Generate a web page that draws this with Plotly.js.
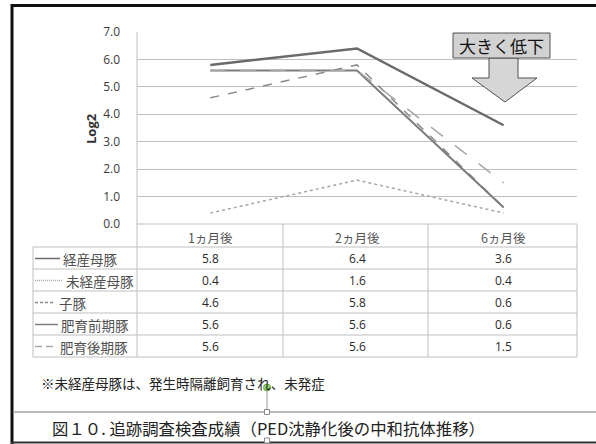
<!DOCTYPE html>
<html><head><meta charset="utf-8">
<script src="https://cdn.plot.ly/plotly-3.0.1.min.js"></script>
<style>html,body{margin:0;padding:0;background:#fff;}#chart{width:596px;height:444px;}</style>
</head><body><div id="chart"></div>
<script>
const categories = ['1ヵ月後', '2ヵ月後', '6ヵ月後'];
const seriesNames = ['経産母豚', '未経産母豚', '子豚', '肥育前期豚', '肥育後期豚'];
const keisanBoton = [5.8, 6.4, 3.6];
const mikeisanBoton = [0.4, 1.6, 0.4];
const kobuta = [4.6, 5.8, 0.6];
const hiikuZenki = [5.6, 5.6, 0.6];
const hiikuKouki = [5.6, 5.6, 1.5];
const yTicks = [0, 1, 2, 3, 4, 5, 6, 7];
const yTickText = ['0.0', '1.0', '2.0', '3.0', '4.0', '5.0', '6.0', '7.0'];
const yTitle = 'Log2';
const calloutText = '大きく低下';
const noteText = '※未経産母豚は、発生時隔離飼育され、未発症';
const captionText = '図１０. 追跡調査検査成績（PED沈静化後の中和抗体推移）';

const seriesValues = [keisanBoton, mikeisanBoton, kobuta, hiikuZenki, hiikuKouki];
const styles = [
  {color: '#6a6a6a', width: 2.5, dash: 'solid'},
  {color: '#a6a6a6', width: 1.5, dash: 'dot'},
  {color: '#8a8a8a', width: 1.5, dash: 'dash'},
  {color: '#7c7c7c', width: 2, dash: 'solid'},
  {color: '#a8a8a8', width: 1.5, dash: 'longdash'}
];
const keyDash = ['solid', '1px,1px', '3px,2px', 'solid', '7px,4px'];
const keyEnd = [60, 62, 55, 58, 57];
const labelX = [61, 64, 57, 59, 58];

const W = 596, H = 444, ML = 137, MR = 19, MT = 32, MB = 220;
const PW = W - ML - MR, PH = H - MT - MB;
const px = x => (x - ML) / PW;
const py = y => (H - MB - y) / PH;

const JP = '"Noto Sans CJK JP", "Noto Sans", sans-serif';
const txt = '#3a3a3a';

const traces = seriesValues.map((vals, i) => ({
  type: 'scatter', mode: 'lines', name: seriesNames[i],
  x: categories, y: vals,
  line: {color: styles[i].color, width: styles[i].width, dash: styles[i].dash},
  hoverinfo: 'skip'
}));

const shapes = [];
const annotations = [];
const gray = '#bfbfbf';
function hline(x0, x1, y, color, width) {
  shapes.push({type: 'line', xref: 'paper', yref: 'paper', x0: px(x0), x1: px(x1), y0: py(y), y1: py(y),
    line: {color: color || gray, width: width || 1}});
}
function vline(x, y0, y1, color, width) {
  shapes.push({type: 'line', xref: 'paper', yref: 'paper', x0: px(x), x1: px(x), y0: py(y0), y1: py(y1),
    line: {color: color || gray, width: width || 1}});
}
function note(o) {
  annotations.push(Object.assign({showarrow: false, xanchor: 'center', yanchor: 'middle'}, o));
}

// Outer frame
vline(12, 4, 444, '#111111', 3);
hline(11, 596, 5.5, '#111111', 3);
hline(11, 596, 442.5, '#333333', 2);

// Data table
const rowB = [224, 247, 269, 291, 313, 335, 357];
hline(137, 577, rowB[0]);
for (let r = 1; r < rowB.length; r++) hline(33, 577, rowB[r]);
vline(33, rowB[1], rowB[6]);
vline(137, MT, rowB[6]);
vline(283, rowB[0], rowB[6]);
vline(428, rowB[0], rowB[6]);
vline(577, rowB[0], rowB[6]);

categories.forEach(c => {
  note({xref: 'x', yref: 'paper', x: c, y: py((rowB[0] + rowB[1]) / 2 + 1.5), text: c,
    font: {family: JP, size: 12.5, color: '#555'}});
});
seriesNames.forEach((name, i) => {
  const yc = (rowB[i + 1] + rowB[i + 2]) / 2 + 0.5;
  shapes.push({type: 'line', xref: 'paper', yref: 'paper', x0: px(35), x1: px(keyEnd[i]), y0: py(yc), y1: py(yc),
    line: {color: styles[i].color, width: Math.min(styles[i].width, 1.5), dash: keyDash[i]}});
  note({xref: 'paper', yref: 'paper', x: px(labelX[i]), y: py(yc), xanchor: 'left', text: name,
    font: {family: JP, size: 13.5, color: '#505050'}});
  categories.forEach((c, j) => {
    note({xref: 'x', yref: 'paper', x: c, y: py(yc), text: seriesValues[i][j].toFixed(1),
      font: {family: '"Open Sans", "Noto Sans", sans-serif', size: 12, color: '#2a2a2a'}});
  });
});

// y-axis title
note({xref: 'paper', yref: 'paper', x: px(91), y: py(129), text: '<b>' + yTitle + '</b>', textangle: -90,
  font: {family: '"Open Sans", "Noto Sans", sans-serif', size: 13, color: '#333'}});

// Callout box with arrow
shapes.push({type: 'path', xref: 'paper', yref: 'paper',
  path: `M${px(489)},${py(58)} L${px(489)},${py(78)} L${px(472)},${py(78)} L${px(505)},${py(102)} L${px(537)},${py(78)} L${px(518)},${py(78)} L${px(518)},${py(58)} Z`,
  fillcolor: '#d6d6d6', line: {color: '#505050', width: 1}});
shapes.push({type: 'rect', xref: 'paper', yref: 'paper', x0: px(453), x1: px(550), y0: py(33), y1: py(58),
  fillcolor: '#d2d2d2', line: {color: '#505050', width: 1}});
note({xref: 'paper', yref: 'paper', x: px(501.5), y: py(45.5), text: calloutText,
  font: {family: JP, size: 17, color: '#111'}});

// Note and caption
note({xref: 'paper', yref: 'paper', x: px(39), y: py(383), xanchor: 'left', text: noteText,
  font: {family: JP, size: 13.5, color: '#222'}});
hline(13, 596, 412, '#a0a0a0', 1.5);
note({xref: 'paper', yref: 'paper', x: px(268), y: py(428), text: captionText,
  font: {family: JP, size: 16.4, color: '#222'}});

// Selection handles
vline(267, 388, 412, '#9a9a9a', 1);
shapes.push({type: 'rect', xref: 'paper', yref: 'paper', x0: px(264.5), x1: px(269.5), y0: py(409.5), y1: py(414.5),
  fillcolor: '#fff', line: {color: '#888', width: 1}});
shapes.push({type: 'rect', xref: 'paper', yref: 'paper', x0: px(264.5), x1: px(269.5), y0: py(438), y1: py(443),
  fillcolor: '#fff', line: {color: '#888', width: 1}});
shapes.push({type: 'circle', xref: 'paper', yref: 'paper', x0: px(263.5), x1: px(270.5), y0: py(384), y1: py(391),
  fillcolor: '#8fd16a', line: {color: '#6aa84f', width: 1}});

const layout = {
  width: W, height: H,
  margin: {l: ML, r: MR, t: MT, b: MB, pad: 0},
  paper_bgcolor: '#fff', plot_bgcolor: '#fff',
  showlegend: false,
  xaxis: {type: 'category', range: [-0.5, 2.5], showgrid: false, zeroline: false, showticklabels: false,
    ticks: '', showline: false, fixedrange: true},
  yaxis: {range: [0, 7], tickvals: yTicks, ticktext: yTickText, showgrid: true, gridcolor: gray, gridwidth: 1,
    zeroline: false, showline: false, ticks: '', ticklabelstandoff: 16,
    tickfont: {family: '"Open Sans", "Noto Sans", sans-serif', size: 12, color: txt}, fixedrange: true},
  shapes: shapes,
  annotations: annotations
};

Plotly.newPlot('chart', traces, layout, {displayModeBar: false, staticPlot: true});
</script>
</body></html>
